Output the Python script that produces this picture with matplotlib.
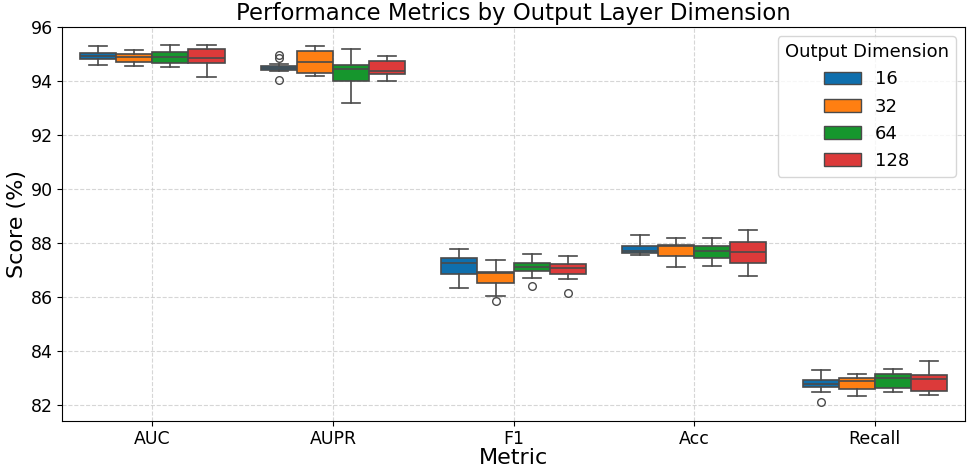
import matplotlib.pyplot as plt
import numpy as np
from matplotlib.patches import Patch

# categories and hue levels
metrics = ['AUC', 'AUPR', 'F1', 'Acc', 'Recall']
dims = ['16', '32', '64', '128']
colors = ['#0f6fad', '#ff7f12', '#16962d', '#dc3a3a']

# box stats, one row per output dimension (metric order as above)
whislo = [[94.61, 94.39, 86.36, 87.56, 82.50],
          [94.57, 94.21, 86.05, 87.12, 82.34],
          [94.52, 93.19, 86.73, 87.16, 82.48],
          [94.17, 94.02, 86.69, 86.80, 82.39]]
q1 = [[94.81, 94.42, 86.85, 87.65, 82.69],
      [94.73, 94.30, 86.52, 87.53, 82.59],
      [94.69, 93.99, 86.99, 87.47, 82.63],
      [94.69, 94.27, 86.87, 87.28, 82.54]]
med = [[94.95, 94.48, 87.28, 87.70, 82.80],
       [94.91, 94.70, 86.89, 87.91, 82.91],
       [94.91, 94.44, 87.12, 87.71, 83.00],
       [94.87, 94.39, 87.10, 87.68, 82.96]]
q3 = [[95.06, 94.57, 87.47, 87.91, 82.94],
      [94.99, 95.12, 86.95, 87.95, 83.00],
      [95.10, 94.60, 87.26, 87.88, 83.16],
      [95.19, 94.75, 87.22, 88.04, 83.11]]
whishi = [[95.32, 94.63, 87.79, 88.32, 83.31],
          [95.16, 95.32, 87.39, 88.18, 83.16],
          [95.34, 95.19, 87.61, 88.18, 83.33],
          [95.34, 94.95, 87.53, 88.49, 83.64]]
fliers = [[[], [94.97, 94.85, 94.05], [], [], [82.11]],
          [[], [], [85.87], [], []],
          [[], [], [86.43], [], []],
          [[], [], [86.16], [], []]]

fig = plt.figure(figsize=(9.69, 4.69), dpi=100)
ax = fig.add_axes([0.064, 0.103, 0.932, 0.839])

edge = '#4a4a4a'
w = 0.2
for j in range(len(dims)):
    stats = []
    for i in range(len(metrics)):
        stats.append(dict(whislo=whislo[j][i], q1=q1[j][i], med=med[j][i],
                          q3=q3[j][i], whishi=whishi[j][i], fliers=fliers[j][i]))
    pos = np.arange(len(metrics)) + (j - 1.5) * w
    ax.bxp(stats, positions=pos, widths=w, patch_artist=True, manage_ticks=False,
           boxprops=dict(facecolor=colors[j], edgecolor=edge, linewidth=1.2),
           medianprops=dict(color=edge, linewidth=1.2),
           whiskerprops=dict(color=edge, linewidth=1.2),
           capprops=dict(color=edge, linewidth=1.2),
           flierprops=dict(marker='o', markersize=5.5, markerfacecolor='none',
                           markeredgecolor=edge, markeredgewidth=1.0),
           zorder=3)

ax.set_xticks(range(len(metrics)))
ax.set_xticklabels(metrics)
ax.set_xlim(-0.5, 4.5)
ax.set_yticks(np.arange(82, 97, 2))
ax.set_ylim(81.43, 96)
ax.tick_params(labelsize=12.5, pad=3)
ax.grid(True, linestyle='--', color='#cccccc', linewidth=0.8, alpha=0.8)
ax.set_axisbelow(True)

ax.set_title('Performance Metrics by Output Layer Dimension', fontsize=16.4, pad=5)
ax.set_xlabel('Metric', fontsize=16, labelpad=0)
ax.set_ylabel('Score (%)', fontsize=16, labelpad=3)

handles = [Patch(facecolor=c, edgecolor=edge, linewidth=1.0) for c in colors]
ax.legend(handles, dims, title='Output Dimension', loc='upper right',
          fontsize=13, title_fontsize=13)

fig.savefig('out.png', dpi=100)
